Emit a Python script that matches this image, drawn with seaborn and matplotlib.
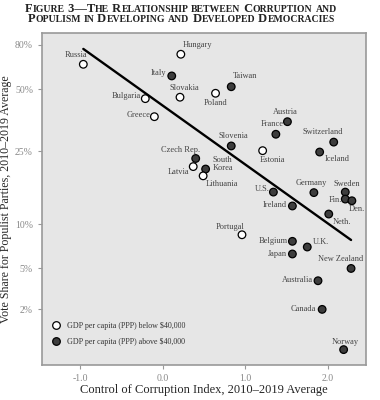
import re
import numpy as np
import pandas as pd
import matplotlib
matplotlib.use("Agg")
import matplotlib.pyplot as plt
import seaborn as sns

# data
countries = ["Russia", "Hungary", "Italy", "Slovakia", "Bulgaria", "Greece", "Poland",
             "Taiwan", "Austria", "France", "Switzerland", "Slovenia", "Estonia", "Iceland",
             "Czech Rep.", "South\nKorea", "Latvia", "Lithuania", "U.S.", "Germany", "Sweden",
             "Fin.", "Den.", "Ireland", "Neth.", "Portugal", "Belgium", "U.K.", "Japan",
             "New Zealand", "Australia", "Canada", "Norway"]
corruption = [-0.96, 0.22, 0.11, 0.21, -0.21, -0.10, 0.64,
              0.83, 1.51, 1.37, 2.07, 0.83, 1.21, 1.90,
              0.40, 0.52, 0.37, 0.49, 1.34, 1.83, 2.21,
              2.21, 2.29, 1.57, 2.01, 0.96, 1.57, 1.75, 1.57,
              2.28, 1.88, 1.93, 2.19]
vote_share = [65.2, 72.5, 57.6, 45.8, 45.1, 37.0, 47.8,
              51.3, 35.0, 30.4, 27.8, 26.6, 25.2, 24.8,
              23.0, 20.3, 20.9, 18.7, 15.3, 15.2, 15.3,
              14.0, 13.7, 12.8, 11.5, 8.6, 7.8, 7.15, 6.4,
              5.0, 3.96, 1.98, 0.0]
below = {"Russia", "Hungary", "Slovakia", "Bulgaria", "Greece", "Poland",
         "Estonia", "Latvia", "Lithuania", "Portugal"}
lbl_below = "GDP per capita (PPP) below $40,000"
lbl_above = "GDP per capita (PPP) above $40,000"
fit_x = [-0.96, 2.28]
fit_y = [76.7, 7.96]
yticks = [2, 5, 10, 25, 50, 80]
xticks = [-1.0, 0.0, 1.0, 2.0]

df = pd.DataFrame({"country": countries, "cc": corruption, "vote": vote_share})
df["gdp"] = [lbl_below if c in below else lbl_above for c in countries]

# label offsets in pixels (dx, dy) from the point centre
offsets = {
    "Russia": (-7, 9), "Hungary": (17, 9), "Italy": (-13, 3), "Slovakia": (4, 9),
    "Bulgaria": (-19, 3), "Greece": (-16, 2), "Poland": (0, -9.5), "Taiwan": (14, 11),
    "Austria": (-2, 10), "France": (-4, 10), "Switzerland": (-11, 10), "Slovenia": (2, 9.5),
    "Estonia": (10, -9.5), "Iceland": (18, -6.5), "Czech Rep.": (-15, 8),
    "South\nKorea": (7, 5), "Latvia": (-15, -5), "Lithuania": (19, -8.3),
    "U.S.": (-11.6, 3), "Germany": (-3, 9.4), "Sweden": (1.3, 8), "Fin.": (-9.7, -1.4),
    "Den.": (4.5, -8), "Ireland": (-18, 1), "Neth.": (13, -7.7), "Portugal": (-12, 8),
    "Belgium": (-19, 0), "U.K.": (14, 5), "Japan": (-14.5, 0), "New Zealand": (-10, 9),
    "Australia": (-21, 0.7), "Canada": (-18.7, 0.6), "Norway": (2, 7.3),
}

sns.set_theme(style="ticks")
plt.rcParams["font.family"] = ["Liberation Serif", "DejaVu Serif"]

fig = plt.figure(figsize=(3.8, 4.0), dpi=100)
ax = fig.add_axes([0.1105, 0.0875, 0.8525, 0.83])
ax.set_facecolor("#e6e6e6")

ax.set_yscale("function", functions=(lambda y: np.log10(y + 4), lambda t: 10 ** t - 4))

sns.lineplot(x=fit_x, y=fit_y, color="black", linewidth=1.7, ax=ax)
sns.scatterplot(data=df, x="cc", y="vote", hue="gdp", hue_order=[lbl_below, lbl_above],
                palette={lbl_below: "white", lbl_above: "#3d3d3d"},
                edgecolor="black", linewidth=0.9, s=30, ax=ax, zorder=3)

for c, x, y in zip(countries, corruption, vote_share):
    dx, dy = offsets[c]
    ha = "left" if c == "South\nKorea" else "center"
    ax.annotate(c, (x, y), xytext=(dx, dy), textcoords="offset pixels",
                ha=ha, va="center", fontsize=6, color="#444444", linespacing=0.95)

ax.set_xlim(-1.46, 2.46)
ax.set_ylim(-0.57, 90.6)
ax.set_xticks(xticks)
ax.set_xticklabels([f"{v:.1f}" for v in xticks])
ax.set_yticks(yticks)
ax.set_yticklabels([f"{v}%" for v in yticks])
ax.minorticks_off()
ax.tick_params(colors="#999999", labelcolor="#888888", labelsize=7, length=3, width=0.8)
for s in ax.spines.values():
    s.set_color("#999999")
    s.set_linewidth(1.2)

ax.set_xlabel("Control of Corruption Index, 2010\u20132019 Average", fontsize=9, labelpad=1)
ax.set_ylabel("Vote Share for Populist Parties, 2010\u20132019 Average", fontsize=8.6, labelpad=2)

sns.move_legend(ax, "lower left", bbox_to_anchor=(0.0, 0.04), frameon=False, title=None,
                fontsize=5.8, labelspacing=1.0, handletextpad=0.4, borderaxespad=0.3)
for t in ax.get_legend().get_texts():
    t.set_color("#333333")


def small_caps(y_px, text, big=9, small=7, shift=-9):
    r = fig.canvas.get_renderer()
    pieces = []
    for part in re.findall(r"[a-z]+|[^a-z]+", text):
        size = small if part.islower() else big
        t = fig.text(0, 1 - y_px / 400, part.upper(), fontsize=size, fontweight="bold",
                     va="baseline", color="#222222")
        pieces.append(t)
    widths = [t.get_window_extent(r).width for t in pieces]
    x = (fig.bbox.width - sum(widths)) / 2 + shift
    for t, w in zip(pieces, widths):
        t.set_x(x / fig.bbox.width)
        x += w


small_caps(11.5, "Figure 3\u2014The Relationship between Corruption and")
small_caps(22.5, "Populism in Developing and Developed Democracies")

fig.savefig("out.png", dpi=100)
